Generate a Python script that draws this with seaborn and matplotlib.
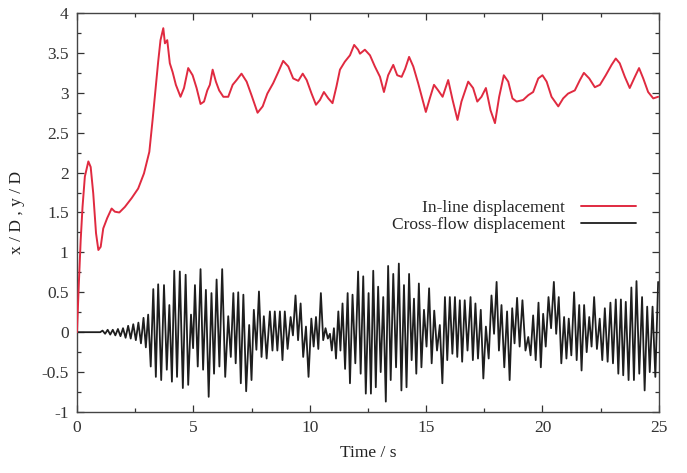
import matplotlib
matplotlib.use("Agg")
import matplotlib.pyplot as plt
from matplotlib.ticker import MultipleLocator, AutoMinorLocator, FuncFormatter
import seaborn as sns
import pandas as pd

# ---------------- data ----------------
# In-line displacement x/D
inline_t = [0.00, 0.08, 0.16, 0.24, 0.34, 0.49, 0.59, 0.70, 0.82, 0.92, 1.02, 1.13, 1.30,
            1.49, 1.63, 1.82, 2.06, 2.35, 2.63, 2.88, 3.11, 3.25, 3.39, 3.49, 3.59, 3.71,
            3.78, 3.88, 3.99, 4.11, 4.25, 4.45, 4.60, 4.78, 4.97, 5.14, 5.31, 5.46, 5.60,
            5.71, 5.83, 5.97, 6.11, 6.29, 6.50, 6.69, 6.86, 7.07, 7.29, 7.50, 7.76, 7.98,
            8.18, 8.43, 8.65, 8.86, 9.08, 9.29, 9.51, 9.70, 9.87, 10.08, 10.27, 10.44,
            10.61, 10.80, 10.98, 11.15, 11.30, 11.51, 11.73, 11.91, 12.08, 12.16, 12.37,
            12.59, 12.80, 13.02, 13.19, 13.37, 13.59, 13.76, 13.95, 14.10, 14.27, 14.45,
            14.66, 14.85, 14.99, 15.16, 15.34, 15.52, 15.71, 15.95, 16.14, 16.35, 16.52,
            16.81, 17.02, 17.20, 17.38, 17.57, 17.77, 17.96, 18.14, 18.34, 18.53, 18.71,
            18.89, 19.17, 19.39, 19.60, 19.82, 20.00, 20.18, 20.39, 20.68, 20.89, 21.10,
            21.39, 21.61, 21.78, 22.01, 22.25, 22.47, 22.72, 22.97, 23.15, 23.32, 23.54,
            23.75, 23.97, 24.15, 24.33, 24.54, 24.76, 24.97]
inline_v = [0.00, 0.60, 1.15, 1.57, 1.95, 2.14, 2.07, 1.74, 1.24, 1.03, 1.07, 1.30, 1.43,
            1.55, 1.51, 1.50, 1.57, 1.68, 1.80, 1.99, 2.26, 2.66, 3.08, 3.39, 3.66, 3.81,
            3.62, 3.66, 3.37, 3.26, 3.10, 2.95, 3.06, 3.31, 3.22, 3.06, 2.86, 2.89, 3.03,
            3.10, 3.29, 3.14, 3.03, 2.95, 2.95, 3.10, 3.16, 3.24, 3.14, 2.97, 2.75, 2.83,
            2.99, 3.12, 3.26, 3.40, 3.33, 3.18, 3.15, 3.24, 3.16, 2.99, 2.85, 2.91,
            3.01, 2.93, 2.87, 3.08, 3.29, 3.39, 3.47, 3.60, 3.54, 3.49, 3.54,
            3.47, 3.33, 3.20, 3.01, 3.22, 3.35, 3.22, 3.20, 3.30, 3.45, 3.33,
            3.12, 2.91, 2.76, 2.93, 3.10, 3.03, 2.95, 3.16, 2.91, 2.66, 2.89,
            3.14, 3.06, 2.89, 2.95, 3.06, 2.78, 2.62, 2.95, 3.22, 3.14, 2.93,
            2.89, 2.91, 2.97, 3.01, 3.18, 3.22, 3.14, 2.95, 2.83, 2.93, 2.99,
            3.03, 3.16, 3.25, 3.18, 3.07, 3.10, 3.22, 3.35, 3.43, 3.37, 3.20,
            3.06, 3.20, 3.31, 3.18, 3.01, 2.93, 2.95]

# Cross-flow displacement y/D : start-up part (extremes in time order)
cross_start_t = [0.00, 1.00, 1.10, 1.21, 1.32, 1.43, 1.54, 1.65, 1.76, 1.87, 1.98, 2.09, 2.20,
                 2.31, 2.42, 2.53, 2.64, 2.75, 2.86, 2.96, 3.06, 3.17, 3.28, 3.39, 3.49, 3.62,
                 3.74, 3.86, 3.97, 4.08, 4.18, 4.30, 4.42, 4.55, 4.67, 4.78, 4.90, 4.99, 5.07,
                 5.19, 5.31, 5.42, 5.54, 5.66, 5.78, 5.89, 6.00, 6.12, 6.24, 6.37, 6.50, 6.61,
                 6.72, 6.82, 6.93, 7.04, 7.15, 7.27, 7.40, 7.50, 7.60, 7.71, 7.82, 7.93, 8.03,
                 8.15]
cross_start_v = [0.00, 0.00, 0.02, -0.02, 0.03, -0.03, 0.03, -0.04, 0.04, -0.05, 0.05, -0.07, 0.08,
                 -0.08, 0.10, -0.10, 0.12, -0.14, 0.18, -0.19, 0.22, -0.43, 0.54, -0.56, 0.60, -0.60,
                 0.59, -0.47, 0.34, -0.62, 0.77, -0.56, 0.76, -0.70, 0.72, -0.66, 0.22, -0.20, 0.59,
                 -0.43, 0.79, -0.47, 0.53, -0.81, 0.49, -0.52, 0.66, -0.43, 0.79, -0.56, 0.20, -0.31,
                 0.49, -0.39, 0.50, -0.64, 0.47, -0.74, 0.09, -0.60, 0.28, -0.22, 0.51, -0.31, 0.20,
                 -0.33]

# Cross-flow: peaks and troughs after 8.2 s
cross_peak_t = [8.29, 8.50, 8.72, 8.93, 9.18, 9.39, 9.61, 9.84, 10.07, 10.27, 10.48, 10.68, 10.87,
                11.04, 11.23, 11.41, 11.63, 11.84, 12.08, 12.30, 12.53, 12.73, 12.94, 13.16,
                13.37, 13.59, 13.83, 14.05, 14.27, 14.48, 14.69, 14.91, 15.13, 15.35, 15.59,
                15.81, 16.02, 16.24,
                16.45, 16.66, 16.91, 17.12, 17.35, 17.57, 17.81, 18.03, 18.24, 18.48, 18.70,
                18.91, 19.14, 19.39, 19.60, 19.83, 20.03, 20.26, 20.49, 20.70, 20.93, 21.13,
                21.36, 21.58, 21.79, 22.01, 22.22, 22.46, 22.68, 22.92, 23.15, 23.37, 23.58,
                23.82, 24.04, 24.28, 24.50, 24.73, 24.97]
cross_peak_v = [0.26, 0.26, 0.26, 0.26, 0.19, 0.46, 0.36, 0.07, 0.17, 0.19, 0.49, 0.05, -0.02,
                0.05, 0.26, 0.36, 0.49, 0.47, 0.76, 0.70, 0.49, 0.77, 0.57, 0.44,
                0.83, 0.73, 0.86, 0.59, 0.73, 0.42, 0.61, 0.28, 0.55, 0.27, 0.09,
                0.44, 0.44, 0.44,
                0.40, 0.40, 0.44, 0.36, 0.28, 0.07, 0.46, 0.63, 0.34, 0.26, 0.30,
                0.43, 0.40, -0.06, 0.21, 0.37, 0.23, 0.44, 0.63, 0.44, 0.19, 0.17,
                0.50, 0.34, 0.34, 0.19, 0.44, 0.17, 0.30, 0.37, 0.41, 0.41, 0.38,
                0.56, 0.64, 0.44, 0.32, 0.32, 0.63]
cross_trough_t = [8.40, 8.61, 8.83, 9.05, 9.28, 9.50, 9.72, 9.95, 10.17, 10.37, 10.58, 10.78,
                  10.95, 11.13, 11.32, 11.52, 11.73, 11.96, 12.19, 12.41, 12.63, 12.84, 13.05,
                  13.27, 13.48, 13.71, 13.94, 14.16, 14.38, 14.58, 14.80, 15.02, 15.24, 15.47,
                  15.70, 15.91, 16.13, 16.34,
                  16.55, 16.78, 17.01, 17.23, 17.46, 17.69, 17.92, 18.13, 18.36, 18.59, 18.80,
                  19.02, 19.27, 19.49, 19.71, 19.93, 20.14, 20.37, 20.59, 20.81, 21.03, 21.24,
                  21.47, 21.68, 21.90, 22.11, 22.34, 22.57, 22.80, 23.03, 23.26, 23.47, 23.70,
                  23.93, 24.16, 24.39, 24.61, 24.85]
cross_trough_v = [-0.23, -0.23, -0.35, -0.21, -0.04, -0.10, -0.31, -0.56, -0.18, -0.21, -0.10, -0.08,
                  -0.23, -0.33, -0.23, -0.46, -0.64, -0.39, -0.52, -0.77, -0.77, -0.69, -0.50,
                  -0.87, -0.60, -0.44, -0.73, -0.69, -0.35, -0.52, -0.44, -0.18, -0.39, -0.23,
                  -0.64, -0.35, -0.27, -0.31,
                  -0.37, -0.23, -0.35, -0.33, -0.58, -0.33, -0.02, -0.23, -0.44, -0.60, -0.14,
                  -0.18, -0.23, -0.29, -0.35, -0.44, -0.18, 0.05, -0.02, -0.39, -0.33, -0.29,
                  -0.35, -0.48, -0.25, -0.18, -0.21, -0.35, -0.37, -0.39, -0.52, -0.54, -0.60,
                  -0.60, -0.52, -0.73, -0.50, -0.56]

x_ticks = [0, 5, 10, 15, 20, 25]
y_ticks = [-1, -0.5, 0, 0.5, 1, 1.5, 2, 2.5, 3, 3.5, 4]
labels = ["In-line displacement", "Cross-flow displacement"]

# ---------------- figure ----------------
sns.set_style("ticks")
plt.rcParams["font.family"] = ["Liberation Serif", "DejaVu Serif"]
plt.rcParams["axes.unicode_minus"] = False

inline_df = pd.DataFrame({"t": inline_t, "v": inline_v})
cross_df = pd.concat([
    pd.DataFrame({"t": cross_start_t, "v": cross_start_v}),
    pd.DataFrame({"t": cross_peak_t, "v": cross_peak_v}),
    pd.DataFrame({"t": cross_trough_t, "v": cross_trough_v}),
]).sort_values("t").reset_index(drop=True)

fig = plt.figure(figsize=(6.87, 4.73), dpi=100)
ax = fig.add_axes([0.112, 0.129, 0.847, 0.8435])

sns.lineplot(data=inline_df, x="t", y="v", ax=ax, color="#e02a40", lw=1.4,
             estimator=None, sort=False, label=labels[0], zorder=3)
sns.lineplot(data=cross_df, x="t", y="v", ax=ax, color="#1e1e1e", lw=1.3,
             estimator=None, sort=False, label=labels[1], zorder=2)

ax.set_xlim(0, 25)
ax.set_ylim(-1, 4)
ax.set_xticks(x_ticks)
ax.set_yticks(y_ticks)
ax.xaxis.set_minor_locator(AutoMinorLocator(2))
ax.yaxis.set_minor_locator(AutoMinorLocator(2))
ax.yaxis.set_major_formatter(FuncFormatter(lambda v, p: "%g" % v))
ax.tick_params(which="both", direction="in", top=True, right=True,
               labelsize=12.5, colors="#333333", pad=6)
ax.tick_params(which="major", length=5, width=0.9)
ax.tick_params(which="minor", length=3, width=0.9)
for s in ax.spines.values():
    s.set_color("#444444")
    s.set_linewidth(1.0)

ax.set_xlabel("Time / s", fontsize=12.5, color="#222222", labelpad=6)
ax.set_ylabel("x / D , y / D", fontsize=12.5, color="#222222", labelpad=12)

leg = ax.legend(loc="upper right", bbox_to_anchor=(0.973, 0.55), frameon=False,
                markerfirst=False, fontsize=12.5, handlelength=3.2,
                handletextpad=0.9, labelspacing=0.05, borderaxespad=0)

fig.savefig("out.png", dpi=100)
